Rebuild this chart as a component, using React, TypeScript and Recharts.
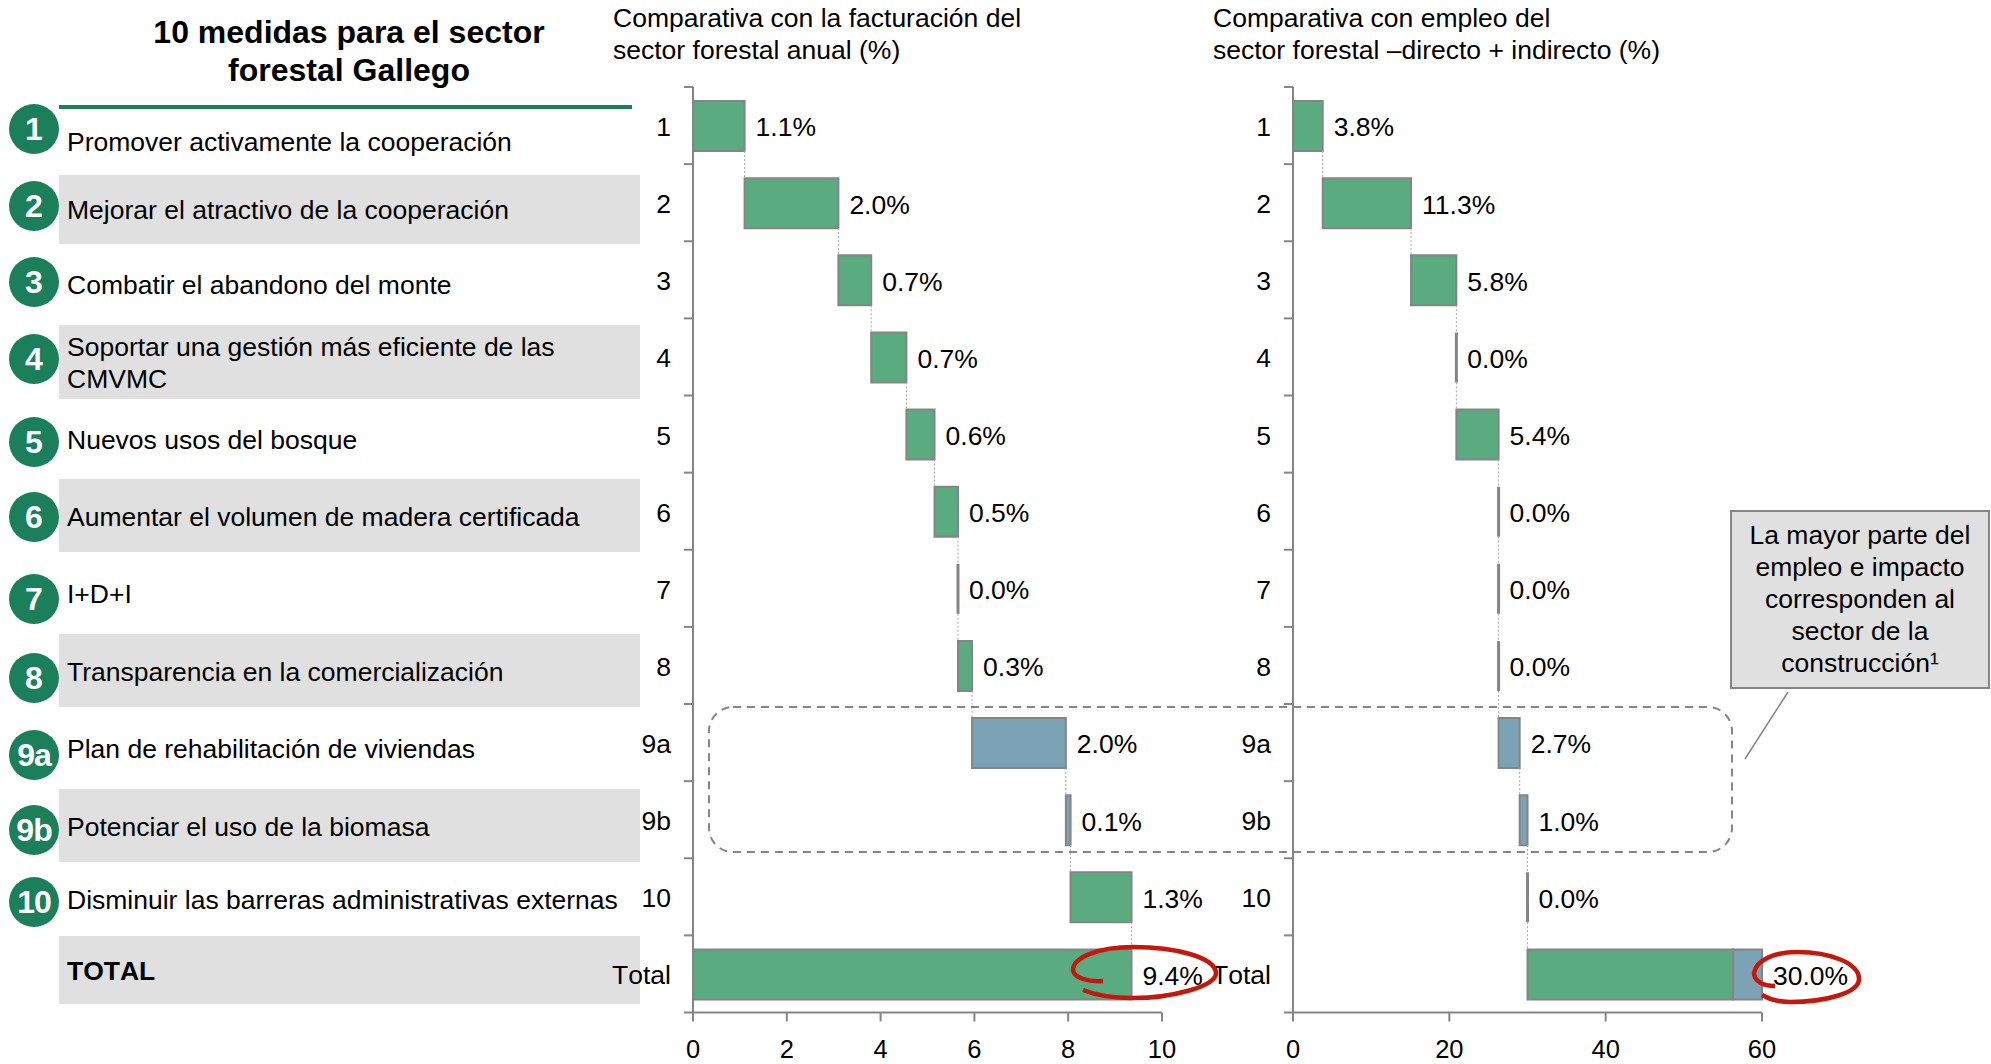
import React from 'react';
import { BarChart, Bar, XAxis, YAxis, LabelList } from 'recharts';

// --- Data ---

const categories = ['1', '2', '3', '4', '5', '6', '7', '8', '9a', '9b', '10', 'Total'];

// Comparativa con la facturacion (%)
const factBase = [0, 1.1, 3.1, 3.8, 4.55, 5.15, 5.65, 5.65, 5.95, 7.95, 8.05, 0];
const factGreen = [1.1, 2.0, 0.7, 0.75, 0.6, 0.5, 0, 0.3, null, null, 1.3, 9.35];
const factBlue = [null, null, null, null, null, null, null, null, 2.0, 0.1, null, null];
const factLabels = ['1.1%', '2.0%', '0.7%', '0.7%', '0.6%', '0.5%', '0.0%', '0.3%', '2.0%', '0.1%', '1.3%', '9.4%'];
const factTicks = [0, 2, 4, 6, 8, 10];

// Comparativa con empleo (%)
const empBase = [0, 3.8, 15.1, 20.9, 20.9, 26.3, 26.3, 26.3, 26.3, 29.0, 30.0, 30.0];
const empGreen = [3.8, 11.3, 5.8, 0, 5.4, 0, 0, 0, null, null, 0, 26.3];
const empBlue = [null, null, null, null, null, null, null, null, 2.7, 1.0, null, 3.7];
const empLabels = ['3.8%', '11.3%', '5.8%', '0.0%', '5.4%', '0.0%', '0.0%', '0.0%', '2.7%', '1.0%', '0.0%', '30.0%'];
const empTicks = [0, 20, 40, 60];

const badges = ['1', '2', '3', '4', '5', '6', '7', '8', '9a', '9b', '10'];
const badgeCenters = [129, 206, 282, 359, 442, 517, 599, 678, 755, 830, 902];

const measures = [
  ['Promover activamente la cooperación'],
  ['Mejorar el atractivo de la cooperación'],
  ['Combatir el abandono del monte'],
  ['Soportar una gestión más eficiente de las', 'CMVMC'],
  ['Nuevos usos del bosque'],
  ['Aumentar el volumen de madera certificada'],
  ['I+D+I'],
  ['Transparencia en la comercialización'],
  ['Plan de rehabilitación de viviendas'],
  ['Potenciar el uso de la biomasa'],
  ['Disminuir las barreras administrativas externas'],
];
const measureCenters = [142, 210, 285, 347, 440, 517, 594, 672, 749, 827, 900];

// grey stripes behind the list [top, bottom]
const stripes = [[175, 244], [325, 399], [479, 552], [634, 707], [789, 862], [936, 1004]];

const calloutLines = ['La mayor parte del', 'empleo e impacto', 'corresponden al', 'sector de la', 'construcción¹'];
const calloutCenters = [535, 567, 599, 631, 663];

// --- Styles ---

const FONT = '"Liberation Sans", Arial, sans-serif';
const FONT_SIZE = 26.5;
const TICK_SIZE = 25.5;
const GREEN = '#5bab80';
const BLUE = '#7ba3b5';
const DARK_GREEN = '#1a7f5a';
const GREY = '#858585';
const STRIPE = '#e0e0e0';
const RED = '#c4180c';

const BAND = 77.1;
const BAR_SIZE = 50;

// The label goes on the last segment of each row
const buildRows = (base: any[], green: any[], blue: any[], labels: string[]) =>
  categories.map((name, i) => ({
    name,
    base: base[i],
    green: green[i],
    blue: blue[i],
    greenLabel: blue[i] === null ? labels[i] : null,
    blueLabel: blue[i] === null ? null : labels[i],
  }));

// Bar with a stroke that still shows when the value is 0, plus the dotted link to the next row
const stepShape = (key: string) => (props: any) => {
  const { x, y, width, height, payload } = props;
  if (payload[key] === null) return <g />;
  const right = x + width;
  return (
    <g>
      <path
        d={`M${x} ${y}H${right}V${y + height}H${x}Z`}
        fill={key === 'green' ? GREEN : BLUE}
        stroke={GREY}
        strokeWidth={width < 1 ? 3 : 2}
      />
      {payload.name !== 'Total' && (
        <line
          x1={right}
          x2={right}
          y1={y + height}
          y2={y + height + BAND - BAR_SIZE}
          stroke="#a8a8a8"
          strokeWidth={1}
          strokeDasharray="2 2"
        />
      )}
    </g>
  );
};

const CategoryTick = (props: any) => {
  const { x, y, payload, index } = props;
  const axisX = x + 22;
  const top = y - BAND / 2;
  return (
    <g>
      <line x1={axisX - 9} x2={axisX} y1={top} y2={top} stroke={GREY} strokeWidth={2} />
      {index === categories.length - 1 && (
        <line x1={axisX - 9} x2={axisX} y1={top + BAND} y2={top + BAND} stroke={GREY} strokeWidth={2} />
      )}
      <text
        x={x}
        y={y + 10.5}
        textAnchor="end"
        fontFamily={FONT}
        fontSize={FONT_SIZE}
        fill="#000"
        style={{ fontKerning: 'none' }}
      >
        {payload.value}
      </text>
    </g>
  );
};

const pctLabel = (dataKey: string) => (
  <LabelList dataKey={dataKey} position="right" offset={11} dy={1} fill="#000" fontSize={FONT_SIZE} fontFamily={FONT} />
);

const Waterfall = ({ rows, ticks, width, left }: any) => (
  <div style={{ position: 'absolute', left, top: 66 }}>
    <BarChart
      width={width}
      height={998}
      data={rows}
      layout="vertical"
      barSize={BAR_SIZE}
      margin={{ top: 21, right: width - 93 - 469, bottom: 0, left: 0 }}
    >
      <XAxis
        type="number"
        domain={[ticks[0], ticks[ticks.length - 1]]}
        ticks={ticks}
        interval={0}
        height={51.5}
        tickSize={9}
        tickMargin={18}
        axisLine={{ stroke: GREY, strokeWidth: 2 }}
        tickLine={{ stroke: GREY, strokeWidth: 2 }}
        tick={{ fill: '#000', fontSize: TICK_SIZE, fontFamily: FONT }}
      />
      <YAxis
        type="category"
        dataKey="name"
        width={93}
        interval={0}
        tickLine={false}
        tickSize={0}
        tickMargin={22}
        axisLine={{ stroke: GREY, strokeWidth: 2 }}
        tick={CategoryTick}
      />
      <Bar dataKey="base" stackId="w" fill="none" isAnimationActive={false} />
      <Bar dataKey="green" stackId="w" shape={stepShape('green')} isAnimationActive={false}>
        {pctLabel('greenLabel')}
      </Bar>
      <Bar dataKey="blue" stackId="w" shape={stepShape('blue')} isAnimationActive={false}>
        {pctLabel('blueLabel')}
      </Bar>
    </BarChart>
  </div>
);

const textAt = (text: string, left: number, center: number, extra: React.CSSProperties = {}) => (
  <div
    key={`${text}-${center}`}
    style={{
      position: 'absolute',
      left,
      top: center - 20,
      height: 40,
      lineHeight: '40px',
      fontSize: FONT_SIZE,
      whiteSpace: 'nowrap',
      color: '#000',
      ...extra,
    }}
  >
    {text}
  </div>
);

export default function App() {
  const factRows = buildRows(factBase, factGreen, factBlue, factLabels);
  const empRows = buildRows(empBase, empGreen, empBlue, empLabels);

  return (
    <div style={{ position: 'absolute', left: 0, top: 0, width: 1991, height: 1064, background: '#fff', overflow: 'hidden', fontFamily: FONT }}>
      {stripes.map(([top, bottom]) => (
        <div key={top} style={{ position: 'absolute', left: 59, top, width: 581, height: bottom - top, background: STRIPE }} />
      ))}
      <div style={{ position: 'absolute', left: 59, top: 105, width: 573, height: 4, background: DARK_GREEN }} />

      {textAt('10 medidas para el sector', 149, 32, { width: 400, textAlign: 'center', fontWeight: 700, fontSize: 32 })}
      {textAt('forestal Gallego', 149, 70, { width: 400, textAlign: 'center', fontWeight: 700, fontSize: 32 })}

      {textAt('Comparativa con la facturación del', 613, 18)}
      {textAt('sector forestal anual (%)', 613, 50)}
      {textAt('Comparativa con empleo del', 1213, 18)}
      {textAt('sector forestal –directo + indirecto (%)', 1213, 50)}

      {badges.map((b, i) => (
        <div
          key={b}
          style={{
            position: 'absolute',
            left: 9,
            top: badgeCenters[i] - 25,
            width: 50,
            height: 50,
            borderRadius: 25,
            background: DARK_GREEN,
            color: '#fff',
            fontWeight: 700,
            fontSize: 32,
            lineHeight: '50px',
            textAlign: 'center',
            letterSpacing: b.length > 1 ? -1 : 0,
          }}
        >
          {b}
        </div>
      ))}

      {measures.map((lines, i) =>
        lines.map((line, j) => textAt(line, 67, measureCenters[i] + (j === 1 ? 32 : 0))),
      )}
      {textAt('TOTAL', 67, 971, { fontWeight: 700, fontKerning: 'none' })}

      <Waterfall rows={factRows} ticks={factTicks} width={622} left={600} />
      <Waterfall rows={empRows} ticks={empTicks} width={680} left={1200} />

      <svg width={1991} height={1064} style={{ position: 'absolute', left: 0, top: 0 }}>
        <rect x={709} y={707} width={1023} height={145} rx={24} fill="none" stroke={GREY} strokeWidth={2} strokeDasharray="8 6" />
        <line x1={1788} y1={692} x2={1745} y2={759} stroke={GREY} strokeWidth={1.5} />
        <path
          d="M1103 981 C1088 982 1074 978 1073 970 C1073 957 1100 947 1133 947 C1175 947 1215 957 1216 973 C1216 987 1170 998 1133 998 C1112 998 1095 995 1083 990"
          fill="none"
          stroke={RED}
          strokeWidth={4.5}
        />
        <path
          d="M1775 986 C1763 986 1754 981 1754 973 C1756 960 1775 952 1797 952 C1830 952 1859 963 1859 979 C1859 993 1825 1002 1790 1002 C1778 1002 1769 999 1762 995"
          fill="none"
          stroke={RED}
          strokeWidth={4.5}
        />
      </svg>

      <div style={{ position: 'absolute', left: 1730, top: 510, width: 256, height: 175, background: STRIPE, border: `2px solid ${GREY}` }} />
      {calloutLines.map((line, i) => textAt(line, 1730, calloutCenters[i], { width: 260, textAlign: 'center' }))}
    </div>
  );
}
